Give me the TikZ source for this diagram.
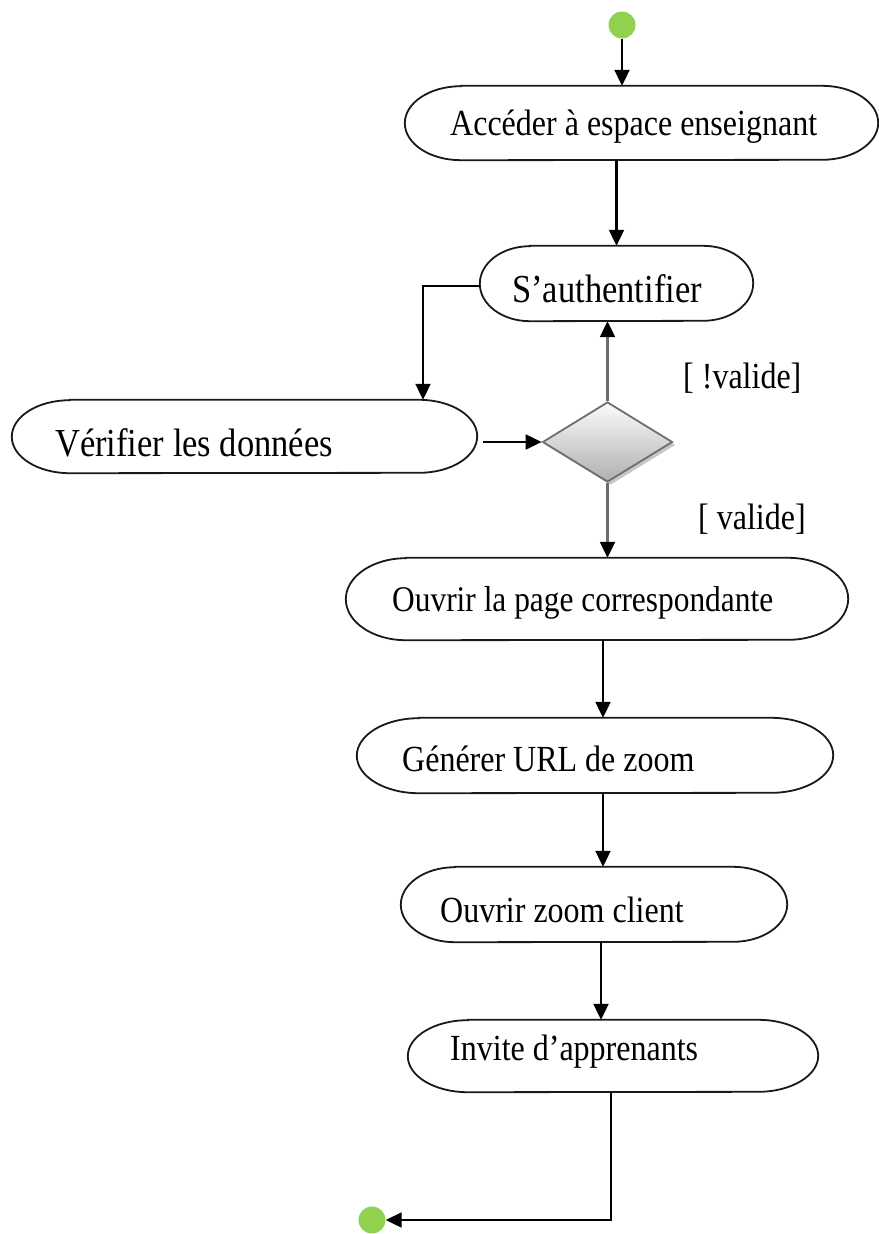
\documentclass[tikz,border=0pt]{standalone}
\usepackage{fontspec}
\usepackage{graphicx}
\setmainfont{Liberation Serif}
\usetikzlibrary{shapes.geometric,shadows,calc,arrows.meta}
\definecolor{startgreen}{HTML}{92D050}
\definecolor{linegray}{HTML}{6E6E6E}
% slightly condensed lettering
\newcommand{\tallset}[1]{\scalebox{1}[1.15]{#1}}
% outline of an activity: flat top and bottom, half-ellipse ends
% #1 node name, #2 horizontal end radius, #3 half height
\newcommand{\actoutline}[3]{%
  \draw[boxline] ([xshift=#2]#1.north west) -- ([xshift=-#2]#1.north east)
    arc[start angle=90, end angle=-90, x radius=#2, y radius=#3]
    -- ([xshift=#2]#1.south west)
    arc[start angle=270, end angle=90, x radius=#2, y radius=#3] -- cycle;}
\begin{document}
\begin{tikzpicture}[x=1pt,y=-1pt,
  actbox/.style={rectangle, inner sep=0pt, minimum height=75pt},
  boxline/.style={draw=black!90, line width=1.8pt},
  txt/.style={font=\fontsize{32}{36}\selectfont, inner sep=0pt, anchor=west},
  bigtxt/.style={font=\fontsize{34.5}{38}\selectfont, inner sep=0pt, anchor=west},
  dot/.style={circle, fill=startgreen, inner sep=0pt, minimum size=27pt},
  arr/.style={line width=2.1pt, -{Triangle[length=16pt,width=15pt]}},
  garr/.style={draw=linegray, line width=2.2pt, -{Triangle[length=16pt,width=15pt,fill=black,color=black]}},
  choice/.style={diamond, draw=linegray, line width=1.8pt, inner sep=0pt,
    minimum width=130pt, minimum height=80pt, aspect=1.625,
    top color=white!97!gray, bottom color=gray!62,
    drop shadow={shadow xshift=3pt, shadow yshift=-3pt, fill=gray!55, opacity=0.8}}
]
\useasboundingbox (0,0) rectangle (878,1234);

% start and end points
\node[dot] (start) at (622,25) {};
\node[dot] (stop) at (372,1220) {};

% activities
\node[actbox, minimum width=473pt, minimum height=74pt] (b1) at (641.5,123) {};
\actoutline{b1}{56pt}{37pt}
\node[txt] (t1) at (450,127) {\tallset{Accéder à espace enseignant}};

\node[actbox, minimum width=273pt] (b2) at (616.5,283.5) {};
\actoutline{b2}{50pt}{37.5pt}
\node[bigtxt] (t2) at (512,289) {\tallset{S’authentifier}};

\node[actbox, minimum width=465pt, minimum height=73pt] (b3) at (244.5,436.5) {};
\actoutline{b3}{58pt}{36.5pt}
\node[bigtxt] (t3) at (55,443) {\tallset{Vérifier les données}};

\node[choice] (d) at (607.5,442) {};

\node[actbox, minimum width=502pt, minimum height=82pt] (b4) at (597,599) {};
\actoutline{b4}{60pt}{41pt}
\node[txt] (t4) at (392,603) {\tallset{\fontsize{31.4}{36}\selectfont Ouvrir la page correspondante}};

\node[actbox, minimum width=476pt] (b5) at (595,755.5) {};
\actoutline{b5}{62pt}{37.5pt}
\node[txt] (t5) at (402,759) {\tallset{Générer URL de zoom}};

\node[actbox, minimum width=386pt] (b6) at (594,904.5) {};
\actoutline{b6}{54pt}{37.5pt}
\node[txt] (t6) at (440,910) {\tallset{Ouvrir zoom client}};

\node[actbox, minimum width=410pt, minimum height=72pt] (b7) at (613,1056) {};
\actoutline{b7}{60pt}{36pt}
\node[txt] (t7) at (450,1052) {\tallset{Invite d’apprenants}};

% guards
\node[txt] (g1) at (683,378) {\tallset{[ !valide]}};
\node[txt] (g2) at (698,519) {\tallset{[ valide]}};

% flows
\draw[arr] (start.south) -- (start.south |- b1.north);
\draw[arr] (b2.north |- b1.south) -- (b2.north);
\coordinate (k1) at (423,286);
\draw[arr] (b2.west |- k1) -| (k1 |- b3.north);
\draw[arr] ($(b3.east |- d.west)+(6,0)$) -- (d.west);
\draw[garr] (d.north) -- (d.north |- b2.south);
\draw[garr] (d.south) -- (d.south |- b4.north);
\draw[arr] ($(b4.south)+(6,0)$) -- ($(b4.south |- b5.north)+(6,0)$);
\draw[arr] ($(b5.south)+(8,0)$) -- ($(b5.south |- b6.north)+(8,0)$);
\draw[arr] ($(b6.south)+(7,0)$) -- ($(b6.south |- b7.north)+(7,0)$);
\draw[arr] ($(b7.south)+(-2,0)$) |- (stop.east);
\end{tikzpicture}
\end{document}
